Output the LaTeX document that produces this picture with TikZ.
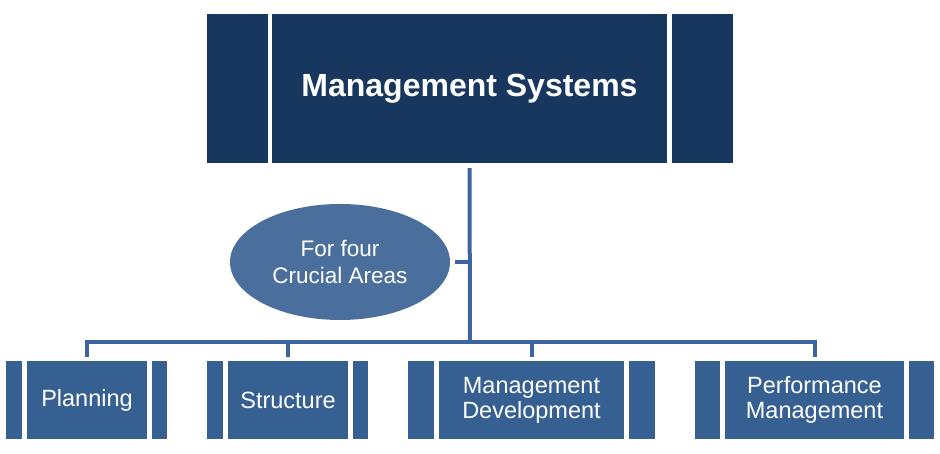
\documentclass[tikz,border=0pt]{standalone}
\usepackage{fontspec}
\setmainfont{Liberation Sans}
\usetikzlibrary{shapes.geometric}
\definecolor{topblue}{HTML}{17375E}
\definecolor{boxblue}{HTML}{366092}
\definecolor{ovalblue}{HTML}{4A6F9C}
\definecolor{lineblue}{HTML}{3D64A0}

\begin{document}
\begin{tikzpicture}
	[x=1pt, y=-1pt,
	every node/.style={inner sep=0pt, text=white, align=center},
	topbox/.style={fill=topblue, minimum height=149pt},
	box/.style={fill=boxblue, minimum height=78pt, font=\fontsize{23.5}{25}\selectfont},
	oval/.style={ellipse, fill=ovalblue, minimum width=220pt, minimum height=116pt, font=\fontsize{22.5}{27}\selectfont},
	link/.style={draw=lineblue, line width=4pt}]
	\useasboundingbox (0,0) rectangle (940,454);
	% top
	\node (msl) [topbox, minimum width=61pt] at (237.5,88.5) {};
	\node (ms) [topbox, minimum width=395pt, font=\bfseries\fontsize{32}{36}\selectfont] at (469.5,88.5) {Management Systems};
	\node (msr) [topbox, minimum width=61pt] at (702.5,88.5) {};
	% four areas
	\node (pll) [box, minimum width=16pt] at (14,400) {};
	\node (pl) [box, minimum width=120pt] at (87,400) {Planning};
	\node (plr) [box, minimum width=15pt] at (159.5,400) {};
	\node (stl) [box, minimum width=16pt] at (215,400) {};
	\node (st) [box, minimum width=120pt] at (288,400) {Structure};
	\node (str) [box, minimum width=15pt] at (360.5,400) {};
	\node (mdl) [box, minimum width=26pt] at (421,400) {};
	\node (md) [box, minimum width=185pt] at (531.5,400) {Management\\Development};
	\node (mdr) [box, minimum width=26pt] at (642,400) {};
	\node (pml) [box, minimum width=25pt] at (707.5,400) {};
	\node (pm) [box, minimum width=179pt] at (814.5,400) {Performance\\Management};
	\node (pmr) [box, minimum width=25pt] at (921.5,400) {};
	% note
	\node (ova) [oval] at (340,262) {For four\\Crucial Areas};
	\coordinate (bar) at (470,342);
	\draw [link] ([yshift=-5pt]ms.south) -- (bar);
	\draw [link] ([yshift=4pt]pl.north) -- (pl.north |- bar) -- (pm.north |- bar) -- ([yshift=4pt]pm.north);
	\draw [link] (st.north |- bar) -- ([yshift=4pt]st.north);
	\draw [link] (md.north |- bar) -- ([yshift=4pt]md.north);
	\draw [link] ([xshift=5pt]ova.east) -- (ova.east -| bar);
\end{tikzpicture}
\end{document}
